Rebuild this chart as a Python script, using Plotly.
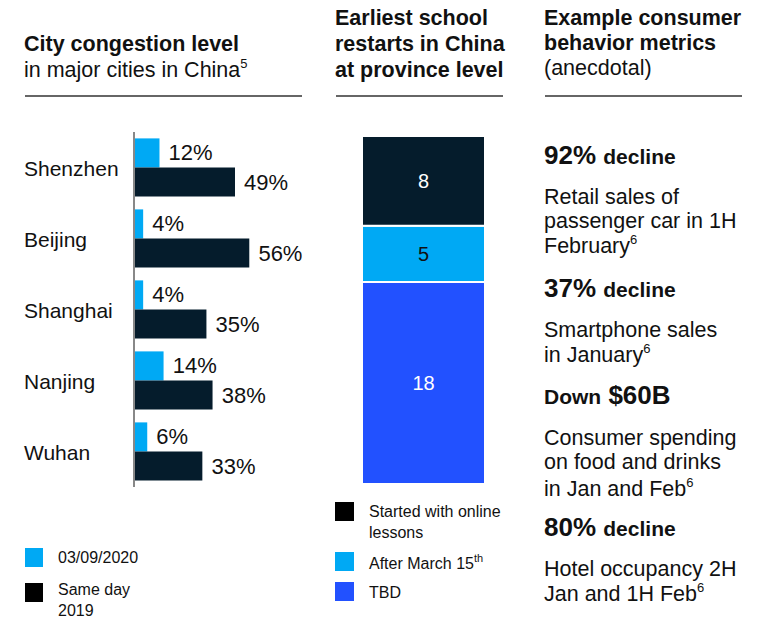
import plotly.graph_objects as go
import numpy as np

# ---------------- data ----------------
cities = ["Shenzhen", "Beijing", "Shanghai", "Nanjing", "Wuhan"]
congestion_2020 = [12, 4, 4, 14, 6]
congestion_2019 = [49, 56, 35, 38, 33]
left_series = ["03/09/2020", "Same day<br>2019"]

SUP = "<sup><span style='font-size:13px'>{}</span></sup>"
school_labels = ["TBD", "After March 15<sup><span style='font-size:11px'>th</span></sup>",
                 "Started with online<br>lessons"]
school_values = [18, 5, 8]

metrics_head = ["<b>92%</b>", "<b>37%</b>", "<b><span style='font-size:21px'>Down</span> $60B</b>", "<b>80%</b>"]
metrics_tail = ["decline", "decline", "", "decline"]
metrics_desc = [
    ["Retail sales of", "passenger car in 1H", "February" + SUP.format(6)],
    ["Smartphone sales", "in January" + SUP.format(6)],
    ["Consumer spending", "on food and drinks", "in Jan and Feb" + SUP.format(6)],
    ["Hotel occupancy 2H", "Jan and 1H Feb" + SUP.format(6)],
]

# ---------------- style ----------------
W, H = 774, 619
DARK = "#051C2C"
CYAN = "#00A9F4"
BLUE = "#2251FF"
TXT = "#111111"
FONT = "Liberation Sans, Arial, sans-serif"
XS = -3  # small left shift to compensate annotation padding


def px(x):
    return x / W


def py(y):
    return 1 - y / H


fig = go.Figure()

# left chart: grouped horizontal bars (manual offsets)
bw = 0.41
fig.add_trace(go.Bar(
    y=cities, x=congestion_2020, orientation="h", marker=dict(color=CYAN, line=dict(width=0)),
    width=bw, offset=-bw, text=["\u00a0" + f"{v}%" for v in congestion_2020],
    textposition="outside", textfont=dict(size=22, color=TXT, family=FONT),
    constraintext="none", cliponaxis=False, xaxis="x", yaxis="y", showlegend=False,
))
fig.add_trace(go.Bar(
    y=cities, x=congestion_2019, orientation="h", marker=dict(color=DARK, line=dict(width=0)),
    width=bw, offset=0, text=["\u00a0" + f"{v}%" for v in congestion_2019],
    textposition="outside", textfont=dict(size=22, color=TXT, family=FONT),
    constraintext="none", cliponaxis=False, xaxis="x", yaxis="y", showlegend=False,
))

# middle chart: stacked bar built from cumulative bases
school_colors = [BLUE, CYAN, DARK]
school_text_colors = ["white", TXT, "white"]
bases = np.concatenate([[0], np.cumsum(school_values)[:-1]])
for lab, val, b, c, tc in zip(school_labels, school_values, bases, school_colors, school_text_colors):
    fig.add_trace(go.Bar(
        x=[0], y=[val], base=[b], width=1, marker=dict(color=c, line=dict(color="white", width=2)),
        text=[str(val)], textposition="inside", insidetextanchor="middle",
        textfont=dict(size=20, color=tc, family=FONT), constraintext="none",
        xaxis="x2", yaxis="y2", showlegend=False, name=lab,
    ))
total = sum(school_values)

annotations = []
shapes = []

# city labels
for c in cities:
    annotations.append(dict(x=px(25 + XS), y=c, xref="paper", yref="y", text=c, showarrow=False,
                            xanchor="left", yanchor="middle", yshift=-1,
                            font=dict(size=21, color=TXT, family=FONT)))


def label(x, y, text, size=21.5, bold=False):
    t = f"<b>{text}</b>" if bold else text
    annotations.append(dict(x=px(x + XS), y=py(y), xref="paper", yref="paper", text=t, showarrow=False,
                            xanchor="left", yanchor="middle",
                            font=dict(size=size, color=TXT, family=FONT)))


# headers
label(25, 44, "City congestion level", 21.5, True)
label(25, 69, "in major cities in China" + SUP.format(5), 21.5)
label(336, 18, "Earliest school", 21.5, True)
label(336, 44, "restarts in China", 21.5, True)
label(336, 70, "at province level", 21.5, True)
label(545, 18, "Example consumer", 21.5, True)
label(545, 43, "behavior metrics", 21.5, True)
label(545, 68, "(anecdotal)", 21.5)
for x0, x1 in [(25, 302), (336, 503), (545, 742)]:
    shapes.append(dict(type="line", xref="paper", yref="paper", x0=px(x0), x1=px(x1),
                       y0=py(96), y1=py(96), line=dict(color="#333333", width=1.5)))

# right metrics
head_y = [155, 288, 395, 527]
desc_y = [[197, 221, 245], [330, 354], [438, 462, 488], [569, 593]]
for hd, tl, hy, ds, dy in zip(metrics_head, metrics_tail, head_y, metrics_desc, desc_y):
    txt = hd + (f" <b><span style='font-size:21px'>{tl}</span></b>" if tl else "")
    label(545, hy, txt, 26)
    for d, yy in zip(ds, dy):
        label(545, yy, d, 21.5)

# left legend
left_colors = [CYAN, "#000000"]
for name, col, y0, ty in zip(left_series, left_colors, [548, 583], [557, 600]):
    shapes.append(dict(type="rect", xref="paper", yref="paper", x0=px(25), x1=px(43),
                       y0=py(y0), y1=py(y0 + 19), fillcolor=col, line=dict(width=0)))
    annotations.append(dict(x=px(58 + XS + 1), y=py(ty), xref="paper", yref="paper", text=name,
                            showarrow=False, xanchor="left", yanchor="middle", align="left",
                            font=dict(size=16, color=TXT, family=FONT)))

# middle legend (top to bottom)
mid_order = list(reversed(range(len(school_labels))))
mid_sq = [502, 552, 582]
mid_ty = [522, 562, 592]
leg_cols = ["#000000", CYAN, BLUE]
for i, y0, ty, col in zip(mid_order, mid_sq, mid_ty, leg_cols):
    shapes.append(dict(type="rect", xref="paper", yref="paper", x0=px(335), x1=px(354),
                       y0=py(y0), y1=py(y0 + 19), fillcolor=col, line=dict(width=0)))
    annotations.append(dict(x=px(368 + XS + 2), y=py(ty), xref="paper", yref="paper", text=school_labels[i],
                            showarrow=False, xanchor="left", yanchor="middle", align="left",
                            font=dict(size=16, color=TXT, family=FONT)))

fig.update_layout(
    width=W, height=H, margin=dict(l=0, r=0, t=0, b=0),
    paper_bgcolor="white", plot_bgcolor="rgba(0,0,0,0)",
    barmode="overlay", font=dict(family=FONT, color=TXT),
    xaxis=dict(domain=[px(135), px(335)], range=[0, 98], visible=False, fixedrange=True),
    yaxis=dict(domain=[py(487), py(132)], type="category", range=[len(cities) - 0.5, -0.5],
               showticklabels=False, ticks="", showgrid=False, zeroline=False,
               showline=True, linecolor="#888888", linewidth=1.5, anchor="x"),
    xaxis2=dict(domain=[px(362), px(485)], range=[-0.5, 0.5], visible=False, anchor="y2"),
    yaxis2=dict(domain=[py(484), py(136)], range=[0, total], visible=False, anchor="x2"),
    annotations=annotations, shapes=shapes,
)

fig.write_html("out.html", config={"displayModeBar": False})

# remove default page margin so the figure sits at the window's top-left corner
with open("out.html", "r", encoding="utf-8") as f:
    html = f.read()
html = html.replace("<head>", "<head><style>html,body{margin:0;padding:0;overflow:hidden;}</style>", 1)
with open("out.html", "w", encoding="utf-8") as f:
    f.write(html)
